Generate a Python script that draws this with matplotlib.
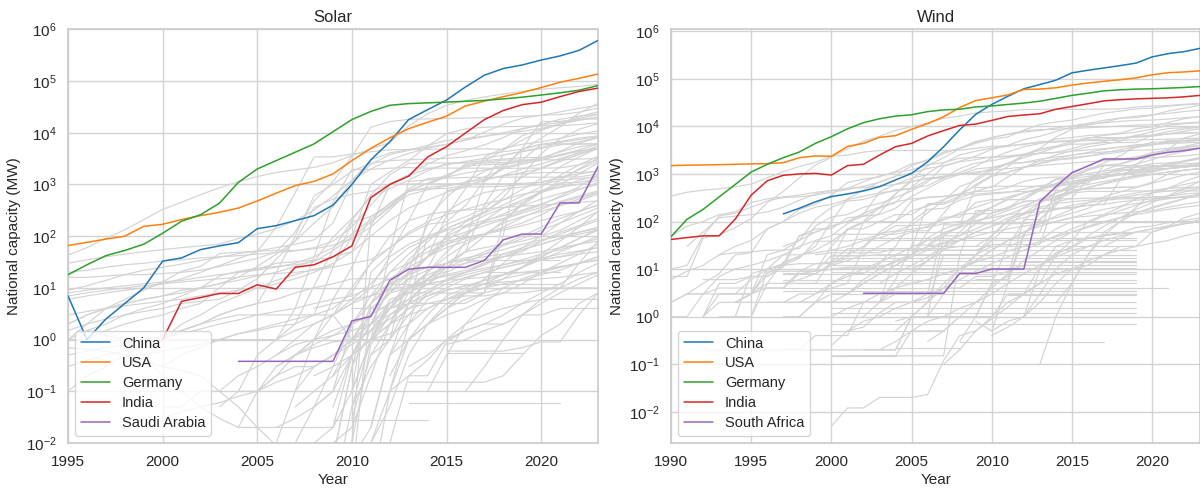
import numpy as np
import matplotlib
matplotlib.use("Agg")
import matplotlib.pyplot as plt
import seaborn as sns

sns.set_theme(style="whitegrid")
plt.rcParams['font.family'] = ['Liberation Sans', 'DejaVu Sans']

# ---------------- Solar data (MW) ----------------
solar_china_start = 1995
solar_china = [7, 1, 2.5, 5, 10, 33, 38, 55, 65, 75, 140, 160, 200, 250, 400, 1000, 3000, 6700,
               18000, 28000, 43000, 77000, 130000, 175000, 205000, 255000, 307000, 393000, 610000]
solar_usa_start = 1995
solar_usa = [66, 76, 88, 100, 155, 170, 210, 250, 290, 350, 480, 680, 950, 1150, 1600, 2900, 5000,
             8000, 12000, 16000, 21000, 33000, 41000, 50000, 60000, 75000, 95000, 113000, 137000]
solar_germany_start = 1995
solar_germany = [18, 28, 42, 53, 70, 114, 195, 260, 435, 1100, 2000, 2900, 4200, 6100, 10500, 18000,
                 25900, 34000, 36700, 37900, 39200, 40700, 42300, 45200, 48900, 53700, 59400, 66500, 82000]
solar_india_start = 2000
solar_india = [1.0, 5.5, 6.5, 7.8, 7.8, 11.5, 9.5, 25, 28, 40, 65, 560, 1000, 1450, 3400, 5400, 9900,
               18000, 27000, 35000, 39000, 50000, 63000, 73000]
solar_saudi_start = 2004
solar_saudi = [0.38, 0.38, 0.38, 0.38, 0.38, 0.38, 2.3, 2.8, 14, 23, 25, 25, 25, 34, 85, 110, 110,
               440, 440, 2200]

solar_other_start = [1995, 1995, 1995, 1995, 1995, 1995, 1999, 1995, 1995, 1995, 1995, 1995, 2010,
                     2008, 2010, 2012, 2000, 2000, 1998, 2009, 1995, 2011, 1995, 1995, 2004, 2010,
                     2007, 2010, 2008, 2010, 2010, 2000, 1995, 2003, 2006, 2009, 2010, 2008, 2009,
                     2010, 2011, 2005, 2012, 2015, 2013, 2012, 1995, 1996, 2000, 2004, 2007, 2010,
                     2010, 2011, 2009, 2006, 1995, 1995, 1995,
                     2008, 2009, 2010, 2007, 2011, 2005, 2012, 2013, 2009, 2014, 2016, 2000, 2006,
                     2010, 2015,
                     2010, 2011, 2008, 2012, 2009, 2013, 2007, 2014, 2010, 2006]
solar_other = [
    [43, 60, 91, 133, 209, 330, 453, 637, 860, 1132, 1422, 1708, 1919, 2144, 2627, 3618, 4890, 6430,
     13600, 23300, 34150, 42040, 49500, 56162, 63192, 69764, 74191, 78833, 87000],
    [16, 16, 17, 18, 18, 19, 20, 22, 26, 31, 37, 50, 120, 480, 1140, 3470, 12780, 16420, 18190, 18600,
     18900, 19280, 19680, 20100, 20870, 21650, 22590, 25080, 30000],
    [6, 7, 8, 9, 10, 12, 15, 20, 27, 37, 50, 150, 690, 3400, 3430, 3870, 4290, 4700, 4770, 4780, 4850,
     4900, 4900, 4750, 8800, 11800, 15000, 20500, 25500],
    [9, 11, 14, 18, 22, 25, 29, 34, 39, 46, 52, 60, 70, 85, 180, 1090, 2460, 3800, 4570, 5290, 5950,
     7220, 10300, 14600, 19200, 21800, 25400, 29700, 34000],
    [2, 3, 4, 5, 6, 7, 8, 10, 12, 16, 26, 45, 80, 180, 370, 1200, 3000, 4100, 4700, 5700, 7100, 7700,
     8600, 9500, 10700, 12100, 14800, 17400, 20000],
    [1.5, 2, 2.5, 3, 3.5, 4, 5, 5.5, 6, 9, 15, 36, 81, 357, 524, 650, 730, 1020, 1550, 2480, 3620, 4500,
     5840, 8100, 11900, 14600, 18200, 21000, 23000],
    [0.5, 1, 2, 3, 5, 7, 10, 14, 18, 23, 27, 95, 1000, 1750, 2900, 5500, 9600, 11900, 12800, 13100,
     13300, 13500, 13700, 14400, 15600],
    [1, 2, 4, 6, 9, 13, 21, 26, 46, 49, 51, 53, 53, 57, 67, 90, 150, 320, 740, 1050, 1530, 2100, 2900,
     4600, 7200, 11100, 14900, 19000, 22500],
    [8, 9, 10, 11, 12, 13, 14, 16, 18, 20, 22, 25, 30, 40, 60, 110, 210, 440, 760, 1060, 1390, 1660,
     1910, 2170, 2500, 2970, 3650, 4700, 6000],
    [1, 1.5, 2, 3, 4, 5, 7, 10, 17, 21, 24, 26, 28, 32, 53, 95, 187, 360, 630, 790, 940, 1100, 1270,
     1450, 1700, 2040, 2780, 3790, 5000],
    [7, 8, 9, 10, 11, 12, 13, 14, 15, 16, 18, 19, 20, 22, 25, 30, 35, 60, 110, 170, 190, 390, 1200,
     3700, 4400, 5200, 6500, 7400, 8400],
    [2, 3, 4, 5, 6, 7, 9, 10, 12, 14, 17, 20, 26, 33, 95, 220, 560, 830, 1210, 1840, 2520, 2670, 2910,
     3100, 3310, 3330, 3630, 4400, 5000],
    [1, 1.5, 2.5, 5, 15, 21, 80, 1100, 2300, 4600, 7900, 13000, 24000, 37000],
    [4, 5, 6, 7, 12, 18, 40, 250, 830, 3400, 5000, 6000, 6700, 7800, 9400, 11000],
    [4, 4, 4, 5, 5, 5, 5, 8, 105, 5000, 16500, 16600, 18400, 18500],
    [2, 11, 220, 570, 1120, 1800, 2450, 2700, 3200, 4400, 6300, 8000],
    [1, 1.5, 2, 3, 4, 5, 20, 100, 600, 1000, 1800, 2600, 2900, 3000, 3100, 3200, 3400, 3800, 4300,
     4800, 6000, 6800, 7900, 8700],
    [1, 1, 1, 1, 1, 1, 1, 2, 11, 55, 200, 620, 1540, 2580, 2600, 2600, 2600, 2600, 2650, 2830, 3290,
     4270, 5350, 6000],
    [0.5, 0.5, 0.6, 0.7, 0.8, 1, 1.3, 1.5, 1.8, 2, 3, 25, 190, 240, 420, 730, 880, 960, 1060, 1400,
     2000, 2500, 3000, 3800, 4500, 5000],
    [0.02, 0.1, 20, 45, 200, 1000, 1400, 2300, 2400, 2500, 3000, 5900, 6000, 6000, 6200],
    [0.3, 0.4, 0.5, 0.6, 0.7, 1, 1.5, 2, 3, 4, 5, 6, 8, 10, 12, 15, 15, 15, 15, 15, 30, 50, 400, 1500,
     1600, 1700, 1700, 1700, 1800],
    [0.5, 1, 5, 100, 300, 500, 700, 800, 900, 1000, 1200, 1300, 1400],
    [0.5, 0.6, 0.7, 0.8, 1, 1.2, 1.5, 2, 2.5, 3, 3, 3, 3, 3, 3, 1, 1, 1, 23, 170, 760, 900, 900, 920,
     1000, 1100, 1400, 1600, 1800],
    [1, 1, 1.5, 2, 2.5, 3, 4, 5, 10, 20, 23, 30, 32, 34, 40, 50, 240, 380, 820, 1300, 1420, 2450, 2700,
     2960, 2980, 2990, 3000, 3100, 3200],
    [0.1, 0.5, 1, 4, 40, 460, 1960, 1960, 2070, 2130, 2070, 2080, 2070, 2070, 2050, 2070, 2070, 2100,
     2400, 3000],
    [1, 1, 50, 1150, 1220, 1330, 1370, 1370, 1380, 1390, 1380, 1390, 1400, 1600],
    [0.1, 1, 6, 25, 150, 1000, 1020, 1030, 1030, 1030, 1030, 1030, 1050, 1100, 1300, 1950, 2800],
    [0.1, 1, 1.3, 2, 24, 108, 187, 287, 562, 1540, 3950, 7670, 11700, 15000],
    [0.05, 0.1, 2, 3, 12, 35, 77, 172, 235, 344, 727, 1400, 2100, 2970, 4200, 5500],
    [0.1, 1, 6, 8, 8, 8, 8, 8, 190, 440, 760, 1070, 1100, 1300],
    [0.01, 190, 370, 750, 820, 840, 960, 1200, 2000, 4900, 6000, 6100, 6100, 6100],
    [0.3, 0.5, 0.7, 1, 1.3, 1.6, 2, 2.5, 3, 4, 8, 30, 100, 200, 260, 300, 320, 340, 360, 380, 400, 420,
     450, 480],
    [0.1, 0.2, 0.3, 0.5, 0.8, 1.1, 1.3, 1.6, 2, 2.4, 3, 3.5, 4, 5, 6, 7, 10, 15, 25, 40, 70, 110, 190,
     270, 390, 520, 670, 820, 1000],
    [0.05, 0.1, 0.1, 0.2, 0.3, 0.3, 0.5, 1, 3, 8, 20, 40, 60, 80, 110, 150, 230, 330, 470, 600, 750],
    [0.02, 0.03, 0.05, 0.1, 0.5, 2, 10, 30, 60, 90, 120, 160, 210, 280, 360, 450, 560, 700],
    [0.01, 0.02, 0.2, 2, 8, 15, 30, 50, 60, 70, 80, 100, 130, 200, 300],
    [0.001, 0.01, 0.1, 1, 2, 3, 4, 6, 8, 12, 20, 30, 45, 70],
    [0.003, 0.005, 0.3, 5, 12, 18, 25, 30, 35, 40, 45, 55, 70, 90, 110, 130],
    [0.001, 0.05, 1, 5, 10, 14, 18, 22, 30, 40, 50, 80, 120, 160, 220],
    [0.002, 5, 20, 30, 60, 80, 95, 110, 140, 180, 260, 400, 520, 700],
    [0.001, 0.1, 2, 6, 9, 11, 12, 13, 14, 15, 16, 18, 20],
    [0.005, 0.01, 0.1, 0.3, 0.5, 1, 2, 5, 10, 12, 14, 18, 22, 28, 35, 45, 55, 70, 90],
    [0.1, 0.2, 0.4, 1, 2, 3, 4, 5, 6, 6, 6, 6],
    [0.6, 0.6, 0.6, 0.6, 0.7, 0.9, 0.9, 3, 8],
    [0.15, 0.15, 0.15, 0.15, 0.15, 0.2, 0.5, 1.2, 2, 5, 8],
    [0.01, 0.2, 0.2, 0.9, 1.5, 2, 2, 3, 3, 4, 4, 4],
    [0.7, 0.65, 0.6, 0.5, 0.4, 0.3, 0.25, 0.2, 0.1, 0.05, 0.02, 0.009],
    [1.5, 1.2, 1, 0.5, 0.2, 0.1, 0.05, 0.03, 0.02, 0.02],
    [0.03, 0.04, 0.05, 0.06, 0.08, 0.1, 0.2, 0.5, 1, 3, 10, 30, 60, 120, 190, 260, 330, 420, 510, 640,
     760, 880, 1010, 1200],
    [0.02, 0.1, 0.3, 0.5, 0.7, 0.9, 1, 2, 4, 9, 20, 40, 70, 110, 180, 240, 300, 390, 480, 650],
    [0.01, 0.05, 0.3, 2, 7, 20, 45, 90, 130, 160, 200, 250, 320, 420, 560, 800, 1100],
    [0.5, 1, 3, 6, 12, 25, 50, 100, 200, 400, 700, 1200, 2000, 3200],
    [2, 5, 10, 20, 40, 80, 160, 250, 350, 450, 700, 1000, 1600, 2600],
    [1, 4, 15, 40, 100, 150, 180, 220, 300, 400, 600, 900, 1500],
    [3, 6, 12, 30, 60, 90, 140, 200, 300, 500, 800, 1300, 2200, 3400, 5000],
    [1, 1.5, 2, 3, 5, 10, 40, 70, 100, 140, 200, 280, 400, 600, 900, 1500, 2400, 3500],
    [3, 3.5, 4, 4.5, 5, 5.5, 6, 7, 8, 9, 10, 12, 15, 20, 30, 50, 100, 200, 350, 500, 700, 900, 1200,
     1500, 2000, 2500, 3200, 4000, 5000],
    [20, 22, 25, 28, 30, 33, 35, 38, 40, 42, 45, 48, 52, 60, 80, 150, 400, 1000, 1500, 2000, 2400, 2800,
     3200, 3700, 4300, 5000, 5800, 6700, 8000],
    [30, 35, 40, 45, 50, 55, 60, 65, 70, 90, 110, 140, 200, 320, 600, 1200, 2000, 3000, 4000, 5000,
     6000, 7200, 8500, 10000, 12000, 14000, 16000, 18000, 20000],
    [0.01, 0.02, 0.5, 3, 8, 10, 12, 14, 15, 16, 18, 20, 22, 25, 30, 35],
    [0.005, 0.3, 1.5, 4, 6, 9, 14, 20, 28, 40, 55, 70, 90, 120, 150],
    [0.01, 0.8, 3, 5, 7, 9, 11, 14, 18, 25, 35, 50, 70, 100],
    [0.05, 0.1, 0.2, 1, 4, 8, 15, 22, 30, 38, 45, 55, 70, 85, 100, 120, 140],
    [0.02, 0.5, 5, 15, 25, 30, 35, 40, 45, 50, 60, 70, 80],
    [0.1, 0.15, 0.2, 0.3, 0.5, 0.8, 1.5, 4, 10, 18, 25, 35, 50, 70, 100, 150, 220, 300, 400],
    [0.2, 1, 3, 7, 10, 14, 18, 25, 40, 60, 90, 140],
    [1, 2, 4, 6, 8, 10, 10, 10, 10, 10, 10],
    [0.2, 0.5, 1, 2, 3, 4, 6, 9, 12, 15, 18, 22, 26, 30, 34],
    [2, 4, 8, 12, 18, 25, 40, 60, 90, 130],
    [0.1, 0.3, 1, 3, 6, 10, 15, 20],
    [0.05, 0.05, 0.1, 0.1, 0.2, 0.3, 0.5, 1, 2, 3, 5, 7, 9, 11, 14, 17, 20, 24, 28, 33, 38, 45, 52, 60],
    [0.5, 0.8, 1, 1.2, 1.5, 2, 3, 5, 8, 12, 16, 20, 25, 30, 35, 40, 45, 50],
    [0.03, 0.5, 2, 4, 5, 6, 7, 7, 8, 8, 9, 10, 30, 80],
    [0.8, 1, 1.5, 2, 3, 5, 8, 12, 18],
    [0.05, 0.3, 1, 3, 8, 15, 20, 30, 45, 60, 80, 110, 150, 200],
    [0.01, 0.05, 0.5, 2, 5, 8, 10, 15, 25, 45, 80, 150, 300],
    [0.2, 0.3, 0.5, 1, 2, 4, 7, 10, 15, 20, 25, 30, 35, 40, 50, 60],
    [0.5, 1, 2, 4, 8, 15, 30, 60, 100, 180, 300, 500],
    [0.05, 0.5, 2, 10, 30, 50, 70, 90, 110, 130, 160, 200, 250, 300, 400],
    [0.3, 0.5, 1, 1.5, 2, 3, 5, 8, 12, 20, 30],
    [0.5, 1, 1.5, 2, 3, 5, 8, 12, 20, 30, 45, 65, 90, 130, 180, 250, 350],
    [0.1, 0.5, 2, 5, 10, 15, 20, 25, 30, 40],
    [0.005, 0.02, 0.5, 2, 4, 6, 8, 10, 12, 14, 18, 22, 30, 40],
    [0.3, 0.5, 0.8, 1.2, 2, 3, 5, 10, 20, 50, 100, 200, 350, 500, 700, 900, 1200, 1500],
]
solar_flat_start = [2016, 2017, 2012, 2015, 2009, 2004, 2013]
solar_flat_end = [2021, 2021, 2021, 2019, 2014, 2009, 2021]
solar_flat_value = [35, 20, 12, 0.55, 0.028, 0.02, 0.06]

# ---------------- Wind data (MW) ----------------
wind_china_start = 1997
wind_china = [145, 190, 260, 335, 380, 440, 540, 750, 1030, 1800, 3750, 8500, 18000, 29000, 43000,
              62000, 76000, 94000, 134000, 152000, 170000, 190000, 215000, 290000, 340000, 375000, 440000]
wind_usa_start = 1990
wind_usa = [1500, 1530, 1550, 1570, 1600, 1630, 1650, 1730, 2200, 2400, 2350, 3800, 4400, 5900, 6400,
            8700, 11500, 16000, 25000, 35000, 40000, 46000, 60000, 61000, 65000, 74000, 82000, 89000,
            96000, 105000, 122000, 135000, 140000, 148000]
wind_germany_start = 1990
wind_germany = [48, 112, 180, 330, 600, 1100, 1600, 2200, 2900, 4400, 6100, 8900, 12000, 14500, 16500,
                17600, 20500, 22300, 23000, 25700, 27000, 29000, 31000, 34000, 39000, 45000, 50000,
                56000, 59000, 61000, 62000, 64000, 66000, 69000]
wind_india_start = 1990
wind_india = [42, 46, 50, 50, 112, 360, 720, 940, 1000, 1030, 950, 1500, 1600, 2500, 3750, 4400, 6300,
              8200, 10500, 11200, 13400, 16200, 17400, 18500, 23000, 26300, 30000, 34500, 36500, 38000,
              39000, 40000, 42000, 45000]
wind_safrica_start = 2002
wind_safrica = [3.1, 3.1, 3.1, 3.1, 3.1, 3.1, 8.1, 8.1, 10, 10, 10, 260, 540, 1070, 1470, 2070, 2070,
                2070, 2500, 2850, 3100, 3500]

wind_other_start = [1990, 1990, 1990, 1990, 1990, 1990, 1990, 1992, 1993, 1999, 1993, 1994, 1998,
                    1994, 1992, 1992, 1994, 1997, 1992, 1997, 1991, 1993, 2000, 2001, 1994, 1998,
                    1997, 2002, 2000, 2000, 2001, 2007, 2013, 1994, 1996, 2005, 2009, 1992, 2000,
                    1990, 1991, 1997, 2003, 2004, 1997,
                    1997, 1997, 2000, 2002, 2004, 2006, 2008, 2010, 2005, 2009, 2003, 2012,
                    1998, 2001, 2004, 2006, 2010, 2014, 2000]
wind_other = [
    [343, 413, 458, 487, 539, 614, 835, 1120, 1440, 1750, 2390, 2490, 2890, 3120, 3120, 3130, 3140,
     3130, 3160, 3480, 3800, 3950, 4160, 4810, 4890, 5080, 5250, 5490, 5760, 6130, 6260, 6990, 7120, 7500],
    [7, 7, 45, 52, 75, 115, 250, 430, 830, 1540, 2240, 3400, 4880, 6200, 8260, 9920, 11700, 14800,
     16500, 19100, 20300, 21100, 22600, 22900, 22900, 22900, 22900, 23100, 23400, 25600, 26800, 27500,
     29300, 30500],
    [10, 12, 50, 130, 150, 200, 270, 320, 330, 360, 410, 470, 550, 670, 900, 1500, 2000, 2900, 3400,
     4400, 5400, 6000, 8400, 10900, 12400, 13600, 16200, 19100, 21000, 23500, 24200, 26700, 28500, 29800],
    [50, 80, 100, 140, 160, 250, 300, 330, 360, 410, 450, 490, 690, 910, 1080, 1220, 1560, 1750, 2150,
     2220, 2240, 2320, 2430, 2710, 2870, 3390, 4260, 4560, 4580, 4600, 6600, 7800, 8800, 9700],
    [6, 9, 12, 20, 30, 40, 70, 100, 150, 200, 230, 290, 340, 400, 440, 500, 570, 830, 1070, 1450, 2160,
     2900, 3750, 4380, 5420, 5840, 6430, 6690, 7220, 8980, 9800, 12100, 14500, 16300],
    [2, 3, 5, 8, 20, 22, 70, 100, 180, 230, 360, 660, 780, 870, 1130, 1640, 1900, 2700, 3500, 4850,
     5800, 6900, 8100, 8600, 8700, 9100, 9400, 9700, 10200, 10700, 10900, 11300, 11800, 12300],
    [1, 1, 3, 3, 3, 3, 20, 25, 40, 110, 200, 270, 290, 370, 470, 490, 750, 870, 980, 1020, 1300, 1640,
     1750, 1870, 1980, 2090, 2370, 2620, 2880, 3590, 4120, 4450, 4680, 5200],
    [1, 3, 3, 3, 5, 14, 18, 30, 100, 300, 460, 680, 900, 1050, 1300, 1500, 1800, 2000, 2300, 2400,
     2600, 2700, 2800, 3000, 3200, 3400, 3700, 3900, 4200, 4600, 5000, 5200],
    [20, 22, 23, 25, 25, 27, 80, 125, 140, 200, 240, 320, 440, 680, 1460, 1850, 2370, 3300, 4000, 5300,
     6200, 7800, 9700, 11200, 11900, 12800, 13400, 13600, 14300, 15300, 16000],
    [20, 22, 22, 22, 22, 27, 27, 237, 247, 341, 600, 930, 1430, 2500, 3460, 5970, 8720, 10700, 12300,
     14800, 15400, 17200, 21100, 24200, 28000],
    [3, 3, 6, 10, 13, 19, 25, 38, 66, 95, 150, 380, 760, 1500, 2200, 3400, 4600, 5900, 6800, 7600,
     8200, 9300, 10300, 11600, 13500, 15000, 16400, 17600, 18800, 20600, 22000],
    [2, 3, 4, 4, 8, 9, 30, 70, 100, 200, 380, 700, 820, 820, 1300, 1700, 1900, 2200, 2600, 3100, 3800,
     4200, 4300, 4800, 5600, 6300, 7800, 9000, 9400, 10000],
    [9, 9, 19, 19, 19, 20, 20, 20, 60, 150, 360, 800, 1300, 1700, 2200, 2800, 3600, 4500, 5700, 6500,
     7000, 7600, 8800, 10600, 11400, 12000],
    [2, 2, 2, 2, 2, 2, 2, 2, 2, 2, 3, 3, 3, 85, 85, 520, 520, 870, 1350, 1920, 2500, 3070, 3730, 4200,
     4900, 6600, 6500, 7000, 7300, 7300],
    [1, 2, 2, 3, 8, 13, 50, 60, 80, 100, 130, 190, 250, 520, 1020, 1690, 2510, 3020, 3500, 3800, 4300,
     4500, 4700, 4900, 5000, 5100, 5100, 5200, 5300, 5400, 5600, 5700],
    [6, 6, 6, 7, 7, 11, 50, 70, 70, 120, 130, 140, 190, 340, 500, 750, 980, 1270, 1380, 1630, 1740,
     2050, 2270, 2490, 2830, 3300, 3670, 4130, 4300, 4350, 4500, 4700],
    [2, 3, 10, 20, 30, 40, 50, 90, 140, 420, 610, 820, 970, 980, 990, 990, 1010, 1080, 1380, 1680,
     2090, 2490, 2730, 2890, 3050, 3160, 3220, 3500, 3700, 4000],
    [2, 3, 3, 4, 5, 28, 57, 63, 83, 153, 276, 544, 724, 1180, 1620, 2500, 3390, 3830, 4890, 5810,
     5850, 5770, 5900, 6300, 7000, 7900, 9000],
    [1, 5, 5, 7, 7, 12, 17, 38, 39, 39, 43, 52, 82, 82, 86, 110, 140, 150, 200, 290, 290, 450, 630,
     1000, 1500, 2000, 2000, 2300, 2600, 3300, 5700, 7000],
    [8, 8, 8, 13, 20, 30, 60, 100, 170, 210, 290, 380, 560, 890, 1080, 1380, 1650, 1960, 2230, 2380,
     2800, 3240, 3800, 4630, 4800, 5100, 5400],
    [3, 3, 4, 4, 4, 4, 4, 9, 13, 13, 17, 97, 100, 100, 270, 325, 333, 380, 430, 441, 520, 700, 820,
     860, 860, 1200, 1700, 2400, 3900, 4000, 5100, 5100, 5100],
    [1, 1, 1, 5, 5, 5, 5, 15, 70, 70, 100, 140, 140, 230, 230, 310, 430, 550, 550, 550, 550, 550, 610,
     750, 810, 1130, 1380, 1380, 1640, 1640, 1700],
    [54, 54, 54, 54, 54, 64, 64, 124, 124, 250, 290, 290, 290, 490, 790, 790, 890, 1020, 1220, 1220,
     1430, 1430, 1430, 1600],
    [2, 2, 2, 2, 2, 2, 20, 20, 170, 170, 190, 330, 490, 760, 910, 1300, 1540, 1620, 2150, 2830, 3140,
     3800, 4500],
    [1, 8, 10, 12, 13, 13, 14, 27, 27, 27, 27, 27, 27, 27, 30, 30, 50, 110, 140, 190, 190, 190, 220,
     230, 750, 1600, 2620, 3290, 3310, 3590],
    [2, 2, 5, 8, 8, 13, 30, 100, 180, 190, 280, 350, 380, 410, 480, 570, 610, 830, 1030, 1140, 1310,
     1420, 1650, 1710, 1860, 2200],
    [0.2, 0.2, 0.4, 0.4, 0.4, 2, 2, 6, 32, 32, 58, 78, 142, 149, 184, 269, 280, 302, 300, 310, 312,
     317, 320, 320, 320, 320, 330],
    [0.2, 0.2, 0.2, 1, 1, 50, 50, 90, 150, 200, 260, 280, 280, 420, 500, 500, 530, 530, 670, 1000,
     1200, 1300],
    [0.005, 0.012, 0.012, 0.02, 0.02, 0.02, 0.023, 0.12, 0.4, 0.5, 1, 2, 3, 5, 20, 40, 100, 140, 200,
     300, 400, 500, 700, 900],
    [0.25, 0.5, 0.6, 1.2, 2, 2, 2.5, 4, 4, 7, 7, 9, 12, 12, 18, 25, 30, 30, 45, 60, 60, 75, 90, 110],
    [0.15, 0.15, 0.15, 0.15, 0.5, 0.5, 0.5, 1, 1, 1, 3, 3, 5, 8, 10, 12, 20, 30, 30, 60, 80, 120, 150],
    [0.1, 0.2, 0.5, 0.9, 1.6, 3, 11, 22, 28, 45, 52, 58, 75, 80, 95, 105, 120],
    [0.1, 1, 5, 20, 50, 100, 200, 400, 500, 600, 700],
    [1, 1, 9, 9, 9, 9, 10, 11, 11, 11, 14, 20, 45, 70, 90, 90, 90, 90, 90, 100, 120, 150, 190, 280,
     300, 300, 330, 340, 380, 400],
    [2, 2, 2, 2, 2, 2, 2, 2, 20, 20, 20, 20, 20, 20, 30, 30, 40, 40, 70, 100, 100, 100, 100, 100, 100,
     100, 100, 100],
    [25, 25, 25, 25, 25, 33, 33, 33, 33, 300, 400, 430, 430, 430, 440, 440, 440, 440, 440],
    [6, 6, 6, 56, 106, 256, 310, 790, 1000, 1200, 1200, 1300, 1300, 1400, 1500],
    [0.2, 0.2, 0.2, 0.2, 0.2, 0.2, 0.2, 0.2, 0.2, 0.2, 0.2, 0.2, 0.2, 1, 1, 1, 1, 1, 5, 7, 110, 110,
     220, 630, 630, 1500, 1500, 1500, 1500, 1500, 1500, 1500],
    [0.15, 0.15, 0.15, 0.15, 0.15, 0.15, 0.15, 0.15, 20, 20, 40, 40, 50, 60, 480, 860, 1200, 1500,
     1500, 1500, 1500, 1500, 1500, 1500],
    [2, 3, 3, 7, 10, 12, 15, 20, 20, 22, 25, 30, 40, 45, 60, 70, 75, 90, 100, 105, 120, 140, 150, 160,
     180, 200, 220, 230, 260, 280, 300, 310, 340, 360],
    [30, 60, 120, 130, 140, 160, 200, 280, 380, 450, 500, 520, 560, 600, 700, 800, 900, 1000, 1100,
     1200, 1300, 1400, 1500, 1600, 1700, 1800, 1900, 2000, 2100, 2200, 2300, 2400, 2600],
    [30, 40, 60, 80, 100, 150, 200, 260, 300, 320, 340, 360, 380, 400, 420, 430, 440, 450, 470, 480,
     500, 520, 530],
    [5, 8, 12, 18, 30, 40, 60, 80, 120, 150, 200, 240, 260, 280, 300, 350, 400, 450, 500, 520, 540],
    [0.8, 1, 2, 4, 10, 15, 25, 40, 60, 80, 100, 120, 130, 140, 150, 160, 170, 200, 230, 260],
    [1, 1, 2, 3, 3, 6, 10, 15, 20, 30, 35, 40, 50, 60, 70, 80, 90, 100, 120, 150, 180, 210, 240, 270,
     300, 330, 360],
    [5, 6, 8, 12, 15, 20, 30, 45, 60, 80, 110, 150, 200, 260, 330, 400, 480, 560, 650, 750, 850, 950,
     1050, 1150, 1300, 1400, 1500],
    [1, 1, 2, 2, 3, 5, 8, 12, 18, 25, 35, 50, 70, 100, 140, 190, 250, 330, 420, 520, 640, 780, 950,
     1100, 1300, 1500, 1700],
    [3, 3, 5, 8, 12, 20, 30, 50, 80, 130, 200, 300, 400, 500, 600, 700, 800, 900, 1000, 1100, 1200,
     1300, 1400, 1500],
    [1, 2, 4, 8, 15, 30, 60, 120, 200, 300, 400, 500, 600, 700, 800, 900, 1000, 1100, 1300, 1500,
     1800, 2100],
    [0.5, 1, 2, 5, 10, 20, 40, 80, 150, 250, 400, 550, 700, 850, 1000, 1200, 1400, 1600, 1900, 2200],
    [1, 3, 8, 20, 50, 100, 200, 300, 400, 500, 600, 700, 800, 900, 1000, 1100, 1200, 1300],
    [0.3, 1, 5, 30, 100, 250, 400, 600, 800, 1000, 1300, 1600, 2000, 2500, 3000, 3500],
    [0.5, 5, 50, 150, 300, 500, 800, 1200, 1600, 2000, 2500, 3000, 3500, 4000],
    [10, 15, 25, 40, 60, 80, 100, 120, 150, 180, 220, 250, 280, 320, 360, 400, 440, 480, 520],
    [0.8, 0.5, 0.8, 1, 3, 10, 20, 30, 40, 50, 60, 70, 80, 90, 100],
    [0.2, 0.3, 0.5, 0.8, 1, 1.5, 2, 3, 5, 8, 12, 20, 30, 50, 80, 120, 180, 250, 350, 500, 700],
    [1, 10, 30, 40, 45, 50, 55, 60, 70, 80, 90, 100],
    [2, 3, 5, 7, 10, 14, 20, 28, 40, 55, 75, 100, 130, 170, 220, 280, 350, 430, 520, 620, 730, 850,
     980, 1100, 1200, 1300],
    [0.5, 0.8, 1, 1.5, 2, 3, 4, 6, 9, 13, 18, 25, 35, 50, 70, 95, 130, 170, 220, 280, 350, 420, 500],
    [5, 5, 6, 8, 10, 15, 25, 40, 60, 90, 130, 180, 250, 330, 420, 520, 640, 780, 950, 1100],
    [0.3, 0.5, 1, 2, 4, 8, 15, 25, 40, 60, 80, 100, 120, 140, 160, 180, 200, 220],
    [0.4, 0.6, 1, 2, 5, 10, 15, 20, 25, 30, 35, 40, 50, 60],
    [2, 5, 20, 60, 100, 150, 200, 250, 300, 400],
    [1, 1.5, 2, 3, 4, 5, 6, 8, 10, 14, 18, 24, 30, 38, 48, 60, 75, 95, 120, 150, 190, 240, 300, 380],
]
wind_flat_start = [1997, 1997, 1997, 1997, 1997, 2000, 2000, 2000, 2000, 2000, 2000, 2000, 2000,
                   2000, 2000, 2008, 2004, 2011, 2006, 2012, 2009, 2003,
                   1997, 1997, 2000, 2000, 2000, 2002, 2005, 2007]
wind_flat_end = [2019, 2019, 2019, 2019, 2019, 2019, 2019, 2019, 2019, 2019, 2019, 2019, 2019,
                 2007, 2004, 2017, 2008, 2019, 2019, 2019, 2021, 2019,
                 2019, 2019, 2019, 2019, 2019, 2019, 2019, 2019]
wind_flat_value = [8, 5, 4, 2, 1, 10.5, 12, 17, 20, 25, 0.7, 1.5, 3, 0.5, 0.15, 0.3, 0.22, 2.8,
                   30, 14, 4, 45,
                   6, 3.5, 8.5, 15, 1.2, 40, 60, 100]

solar_year_ticks = [1995, 2000, 2005, 2010, 2015, 2020]
wind_year_ticks = [1990, 1995, 2000, 2005, 2010, 2015, 2020]
decade_ticks = [1e-2, 1e-1, 1e0, 1e1, 1e2, 1e3, 1e4, 1e5, 1e6]

# ---------------- Plot ----------------
fig = plt.figure(figsize=(12, 4.88), dpi=100)
ax1 = fig.add_axes([0.0567, 0.0922, 0.4416, 0.8476])
ax2 = fig.add_axes([0.5592, 0.0922, 0.4410, 0.8476])

gray = '#d3d3d3'
colors = ['#1f77b4', '#ff7f0e', '#2ca02c', '#d62728', '#9467bd']
TICK_FS = 11
LABEL_FS = 11
TITLE_FS = 12


def series_years(start, vals):
    return np.arange(start, start + len(vals))


for ax, starts, others, fs, fe, fv in [
        (ax1, solar_other_start, solar_other, solar_flat_start, solar_flat_end, solar_flat_value),
        (ax2, wind_other_start, wind_other, wind_flat_start, wind_flat_end, wind_flat_value)]:
    for s, v in zip(starts, others):
        ax.plot(series_years(s, v), v, color=gray, lw=0.85, zorder=1)
    for s, e, v in zip(fs, fe, fv):
        ax.plot([s, e], [v, v], color=gray, lw=0.85, zorder=1)

solar_main = [("China", solar_china_start, solar_china), ("USA", solar_usa_start, solar_usa),
              ("Germany", solar_germany_start, solar_germany), ("India", solar_india_start, solar_india),
              ("Saudi Arabia", solar_saudi_start, solar_saudi)]
wind_main = [("China", wind_china_start, wind_china), ("USA", wind_usa_start, wind_usa),
             ("Germany", wind_germany_start, wind_germany), ("India", wind_india_start, wind_india),
             ("South Africa", wind_safrica_start, wind_safrica)]

for ax, main in [(ax1, solar_main), (ax2, wind_main)]:
    for (name, s, v), c in zip(main, colors):
        ax.plot(series_years(s, v), v, color=c, lw=1.1, label=name, zorder=3)
    ax.set_yscale('log')
    ax.set_yticks(decade_ticks)
    ax.set_xlabel('Year', fontsize=LABEL_FS, labelpad=3)
    ax.set_ylabel('National capacity (MW)', fontsize=LABEL_FS, labelpad=3)
    ax.tick_params(labelsize=TICK_FS, pad=2.5)
    ax.legend(loc='lower left', fontsize=10.5, labelspacing=0.4)
    ax.grid(True, which='major', color='#d3d3d3')
    ax.minorticks_off()

ax1.set_title('Solar', fontsize=TITLE_FS, pad=5)
ax1.set_xlim(1995, 2023)
ax1.set_ylim(1e-2, 1e6)
ax1.set_xticks(solar_year_ticks)

ax2.set_title('Wind', fontsize=TITLE_FS, pad=5)
ax2.set_xlim(1990, 2023)
ax2.set_ylim(2.2e-3, 1.1e6)
ax2.set_xticks(wind_year_ticks)

fig.savefig('out.png', dpi=100)
